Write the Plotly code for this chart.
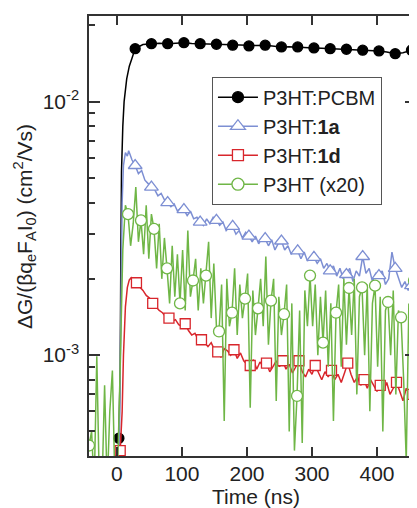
import plotly.graph_objects as go

# ---------------- data (values in units of 1e-3 cm^2/Vs) ----------------
black_t = [3, 5, 6, 7, 9, 11, 15, 19, 23, 28, 40, 53, 65, 78, 90, 103, 115, 128, 140, 153,
           165, 178, 190, 203, 215, 228, 240, 253, 265, 278, 290, 303, 315, 328, 340, 353,
           365, 378, 390, 403, 415, 428, 440, 453, 460]
black_v = [0.47, 0.9, 2.5, 5.3, 8.0, 10.0, 12.3, 13.8, 14.8, 16.19,
           16.8, 16.94, 17.0, 16.94, 17.05, 17.09, 16.98, 16.94, 16.9, 16.85,
           16.78, 16.7, 16.65, 16.6, 16.66, 16.7, 16.55, 16.44, 16.46, 16.44,
           16.35, 16.29, 16.24, 16.19, 16.15, 16.1, 16.02, 15.96, 15.92, 15.86,
           15.7, 15.47, 15.6, 15.96, 15.9]

blue_t = [3, 6, 8, 10, 13, 16, 18, 20] + list(range(23, 461, 5))
blue_v = [0.30, 1.5, 4.0, 5.6, 6.3, 6.1, 6.4, 6.2,
          5.9, 5.6, 5.2, 5.35, 4.9, 4.75, 4.6, 4.5, 4.25, 4.35,
          4.1, 4.0, 3.85, 3.95, 3.7, 3.8, 3.75, 3.55, 3.7, 3.45,
          3.5, 3.35, 3.25, 3.45, 3.3, 3.5, 3.4, 3.25, 3.35, 3.1,
          3.2, 3.22, 3.0, 3.1, 2.9, 3.05, 2.95, 2.8, 2.95, 2.75,
          2.9, 2.88, 2.7, 2.85, 2.6, 2.75, 2.82, 2.6, 2.7, 2.5,
          2.6, 2.58, 2.4, 2.55, 2.35, 2.45, 2.43, 2.3, 2.4, 2.2,
          2.3, 2.15, 2.25, 2.05, 2.2, 2.0, 2.08, 2.2, 1.95, 2.15,
          2.05, 2.45, 2.1, 2.2, 1.95, 2.1, 2.06, 2.15, 1.9, 2.0,
          2.55, 2.2, 2.0, 1.85, 1.95, 1.8, 1.88, 1.8]

red_t = [5, 8, 10, 13, 16, 19, 22, 25] + list(range(30, 461, 5))
red_v = [0.42, 0.6, 1.0, 1.55, 1.85, 1.98, 2.02, 1.98,
         1.93, 1.85, 1.8, 1.72, 1.68, 1.6, 1.55, 1.5, 1.47, 1.42,
         1.4, 1.36, 1.38, 1.32, 1.3, 1.33, 1.25, 1.2, 1.22, 1.15,
         1.15, 1.12, 1.08, 1.12, 1.05, 1.03, 0.98, 1.06, 1.04, 1.0,
         1.05, 0.97, 1.02, 0.95, 0.92, 0.91, 0.96, 0.88, 0.94, 0.9,
         0.93, 0.86, 0.9, 0.95, 0.9, 0.95, 0.88, 0.92, 0.85, 0.9,
         0.95, 0.86, 0.82, 0.88, 0.84, 0.91, 0.85, 0.8, 0.86, 0.82,
         0.87, 0.8, 0.84, 0.78, 0.85, 0.93, 0.84, 0.78, 0.82, 0.76,
         0.8, 0.74, 0.8, 0.76, 0.72, 0.76, 0.72, 0.78, 0.7, 0.74,
         0.78, 0.72, 0.66, 0.74, 0.7, 0.7, 0.72]

green_t = list(range(-43, 462, 4))
green_v = [0.44, 0.50, 0.30, 0.99, 0.30, 0.30, 0.76, 0.30, 0.60, 0.87,
           0.30, 0.35, 0.9, 2.6, 3.9, 3.6, 2.7, 3.3, 4.6, 2.8,
           3.4, 2.5, 3.9, 2.4, 3.6, 3.15, 2.2, 3.3, 2.0, 2.9,
           2.2, 1.6, 2.7, 1.7, 2.5, 1.6, 2.6, 1.5, 3.1, 1.7,
           1.97, 2.4, 1.5, 2.2, 1.6, 2.06, 2.8, 1.4, 2.3, 1.3,
           1.24, 1.9, 0.55, 2.0, 1.3, 1.47, 2.2, 1.2, 1.9, 1.4,
           1.67, 2.1, 0.62, 1.8, 1.2, 1.53, 2.0, 1.3, 2.45, 1.1,
           1.64, 2.0, 0.66, 1.7, 1.2, 1.45, 1.9, 0.5, 1.6, 0.42,
           0.69, 1.5, 0.45, 1.8, 1.3, 2.06, 1.3, 1.9, 1.0, 1.7,
           1.12, 1.8, 0.9, 1.6, 0.55, 1.47, 1.9, 0.9, 2.0, 1.1,
           1.84, 1.2, 2.0, 0.7, 1.7, 1.85, 1.0, 1.9, 0.6, 1.6,
           1.88, 0.9, 1.7, 0.5, 1.5, 1.62, 1.0, 1.8, 0.7, 1.5,
           1.41, 0.8, 0.38, 1.6, 0.55, 1.97, 1.2]

x_tick_vals = [0, 100, 200, 300, 400]
y_tick_vals = [1e-3, 1e-2]
y_tick_text = ["10<sup>-3</sup>", "10<sup>-2</sup>"]
y_minor_vals = [5e-4, 6e-4, 7e-4, 8e-4, 9e-4,
                2e-3, 3e-3, 4e-3, 5e-3, 6e-3, 7e-3, 8e-3, 9e-3, 2e-2]

SCALE = 1e-3

series = [
    dict(name="P3HT:PCBM", t=black_t, v=black_v, color="#000000", symbol="circle",
         size=10, fill="#000000", every=25, start=3),
    dict(name="P3HT:<b>1a</b>", t=blue_t, v=blue_v, color="#7d8fd3", symbol="triangle-up",
         size=12, fill="#ffffff", every=25, start=3),
    dict(name="P3HT:<b>1d</b>", t=red_t, v=red_v, color="#d8262c", symbol="square",
         size=10, fill="#ffffff", every=25, start=5),
    dict(name="P3HT (x20)", t=green_t, v=green_v, color="#6fb646", symbol="circle",
         size=11, fill="#ffffff", every=20, start=-43),
]

fig = go.Figure()
for s in series:
    y = [v * SCALE for v in s["v"]]
    fig.add_trace(go.Scatter(x=s["t"], y=y, mode="lines",
                             line=dict(color=s["color"], width=1.5),
                             showlegend=False, hoverinfo="skip"))
    mt = [t for t in s["t"] if (t - s["start"]) % s["every"] == 0]
    my = [yy for t, yy in zip(s["t"], y) if (t - s["start"]) % s["every"] == 0]
    fig.add_trace(go.Scatter(x=mt, y=my, mode="markers",
                             marker=dict(symbol=s["symbol"], size=s["size"], color=s["fill"],
                                         line=dict(color=s["color"], width=1.3)),
                             showlegend=False, hoverinfo="skip"))

for s in series:
    fig.add_trace(go.Scatter(x=[None], y=[None], mode="lines+markers", name=s["name"],
                             line=dict(color=s["color"], width=1.5),
                             marker=dict(symbol=s["symbol"], size=s["size"] + 1, color=s["fill"],
                                         line=dict(color=s["color"], width=1.3))))

FONT = "Liberation Sans, Arial, sans-serif"
axis_common = dict(showline=True, linecolor="#333333", linewidth=1.5, mirror="ticks",
                   ticks="inside", tickcolor="#333333", tickwidth=1.5,
                   showgrid=False, zeroline=False,
                   tickfont=dict(family=FONT, size=21, color="#222222"))

# page body adds an 8px offset; plot area in figure coords: x 81..408, y 6..448
PL, PR, PT, PB = 81, 408, 6, 448
PW, PH = PR - PL, PB - PT

fig.update_layout(
    width=417, height=508,
    margin=dict(l=PL, r=417 - PR, t=PT, b=508 - PB),
    paper_bgcolor="white", plot_bgcolor="white",
    font=dict(family=FONT, color="#222222"),
    xaxis=dict(range=[-43, 460], tickvals=x_tick_vals, ticklen=9, ticklabelstandoff=-2,
               **axis_common),
    yaxis=dict(type="log", range=[-3.398, -1.662], tickvals=y_tick_vals, ticktext=y_tick_text,
               ticklen=11, ticklabelstandoff=4,
               minor=dict(tickvals=y_minor_vals, ticks="inside", ticklen=6,
                          tickcolor="#333333", tickwidth=1.5, showgrid=False),
               **axis_common),
    legend=dict(x=0.376, y=0.862, xanchor="left", yanchor="top",
                bgcolor="white", bordercolor="#555555", borderwidth=1,
                font=dict(family=FONT, size=20, color="#222222"),
                itemwidth=40, tracegroupgap=0),
    annotations=[
        dict(text="ΔG/(βq<sub>e</sub>F<sub>A</sub>I<sub>0</sub>) (cm<sup>2</sup>/Vs)",
             xref="paper", yref="paper", x=(16 - PL) / PW, y=(PB - 218) / PH,
             xanchor="center", yanchor="middle", textangle=-90, showarrow=False,
             font=dict(family=FONT, size=21, color="#222222")),
        dict(text="Time (ns)", xref="paper", yref="paper", x=(248 - PL) / PW,
             y=(PB - 489) / PH, xanchor="center", yanchor="middle", showarrow=False,
             font=dict(family=FONT, size=21, color="#222222")),
    ],
)

fig.write_html("out.html")
